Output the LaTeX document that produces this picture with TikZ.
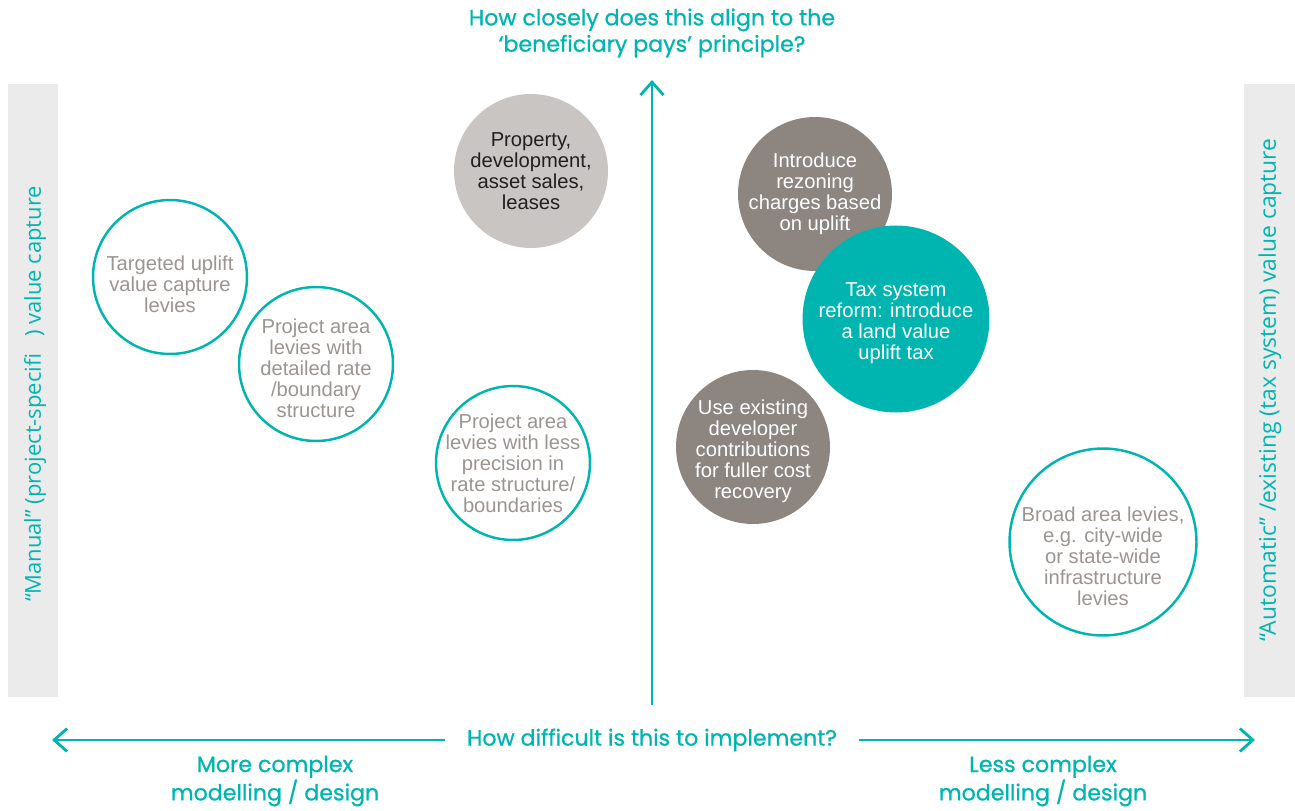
\documentclass[tikz,border=0pt]{standalone}
\usepackage{fontspec}
\setmainfont{Liberation Sans}
\newfontfamily\axisfont[FakeBold=0.8]{Poppins}
\newfontfamily\sidefont{Open Sans}
\usetikzlibrary{arrows.meta}
\definecolor{teal}{RGB}{0,181,176}
\definecolor{band}{RGB}{235,235,235}
\definecolor{pale}{RGB}{200,197,194}
\definecolor{dark}{RGB}{140,133,128}
\definecolor{greytext}{RGB}{155,149,146}
\definecolor{ink}{RGB}{35,31,32}
\newcommand{\dropby}[1]{\rule{0pt}{#1}}
\begin{document}
\begin{tikzpicture}[x=0.02cm,y=-0.02cm,
    bubble/.style={circle,minimum size=3.08cm,inner sep=-0.6cm,align=center,
      font=\fontsize{11.5}{12}\selectfont},
    open/.style={bubble,draw=teal,line width=1.4pt,fill=white,text=greytext},
    big/.style={minimum size=3.74cm},
    axis/.style={teal,line width=1.6pt,-{Straight Barb[length=2.6mm,width=4.6mm,line width=1.6pt]}},
    label/.style={text=teal,align=center,font=\axisfont\fontsize{12.6}{15}\selectfont},
    side/.style={text=teal,rotate=90,font=\sidefont\fontsize{12.5}{14}\selectfont}]
    \useasboundingbox (0,0) rectangle (1295,811);

    % side bands
    \fill[band] (8,84) rectangle (58,697);
    \fill[band] (1244,84) rectangle (1295,697);
    \node(manual)[side] at (35,394) {“Manual” (project-specifi\ \ \ ) value capture};
    \node(automatic)[side,font=\sidefont\fontsize{13}{14}\selectfont] at (1270,390) {“Automatic” /existing (tax system) value capture};

    \node(closely)[label] at (652,33) {How closely does this align to the\\‘beneficiary pays’ principle?};
    \node(difficult)[label,minimum width=8.26cm,inner xsep=0pt] at (652,740) {How difficult is this to implement?};
    \node(morecomplex)[label] at (275,781) {More complex\\modelling / design};
    \node(lesscomplex)[label] at (1043,781) {Less complex\\modelling / design};

    \coordinate(vbot) at (652,705);
    \coordinate(vtop) at (652,80);
    \coordinate(hleft) at (52,740);
    \coordinate(hright) at (1255,740);
    \draw[axis] (vbot) -- (vtop);
    \draw[axis] (difficult) -- (hleft);
    \draw[axis] (difficult) -- (hright);

    \node(property)[bubble,fill=pale,text=ink] at (531,171) {Property,\\development,\\asset sales,\\leases};
    \node(targeted)[open] at (170,277) {\dropby{16.5pt}Targeted uplift\\value capture\\levies};
    \node(detailed)[open] at (316,364) {\dropby{13pt}Project area\\levies with\\detailed rate\\/boundary\\structure};
    \node(lessprecise)[open] at (513,463) {Project area\\levies with less\\precision in\\rate structure/\\boundaries};
    \node(rezoning)[bubble,fill=dark,text=white] at (815,194) {Introduce\\rezoning\\charges based\\on uplift};
    \node(taxreform)[bubble,big,fill=teal,text=white] at (896,319) {\dropby{13pt}Tax system\\reform: introduce\\a land value\\uplift tax};
    \node(developer)[bubble,fill=dark,text=white] at (753,447) {\dropby{13pt}Use existing\\developer\\contributions\\for fuller cost\\recovery};
    \node(broad)[open,big] at (1103,542) {\dropby{24.5pt}Broad area levies,\\e.g. city-wide\\or state-wide\\infrastructure\\levies};

  \end{tikzpicture}
\end{document}
